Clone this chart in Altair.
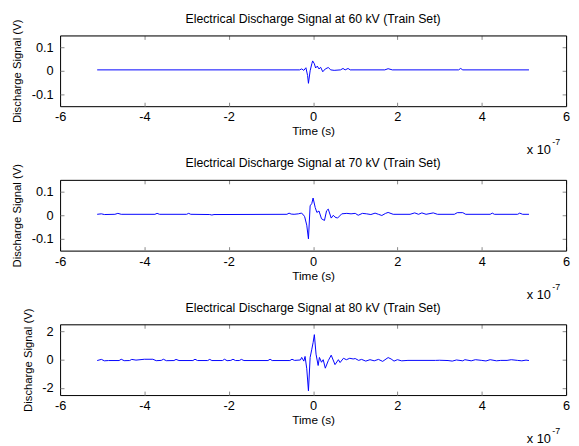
import altair as alt
import pandas as pd

# Time in units of 1e-7 s
t60 = [-5.12, -0.32, -0.27, -0.22, -0.17, -0.13, -0.11, -0.07, -0.03, -0.01, 0.03, 0.06, 0.10, 0.14,
       0.18, 0.23, 0.29, 0.36, 0.42, 0.50, 0.65, 0.71, 0.76, 0.83, 0.88, 1.70, 1.78, 1.88, 3.45, 3.50,
       3.55, 5.12]
v60 = [0.004, 0.004, 0.008, 0.002, 0.013, -0.02, -0.053, 0.0, 0.03, 0.042, 0.03, 0.012, 0.02, 0.008,
       0.015, -0.004, 0.008, 0.014, 0.004, 0.002, 0.004, 0.01, 0.004, 0.01, 0.004, 0.004, 0.009, 0.004,
       0.004, 0.01, 0.004, 0.004]

t70 = [-5.12, -5.02, -4.95, -4.70, -4.63, -4.55, -3.75, -3.70, -3.64, -3.00, -2.95, -2.90, -2.45, -2.40,
       -2.35, -0.62, -0.57, -0.52, -0.45, -0.35, -0.28, -0.24, -0.20, -0.15, -0.11, -0.07, -0.03, 0.0,
       0.05, 0.09, 0.14, 0.20, 0.27, 0.32, 0.36, 0.43, 0.48, 0.52, 0.58, 0.68, 0.80, 0.90, 1.00, 1.07,
       1.17, 1.27, 1.37, 1.47, 1.55, 1.63, 1.72, 1.78, 1.90, 2.30, 2.41, 2.50, 2.58, 2.68, 2.85, 2.95,
       3.35, 3.42, 3.55, 3.62, 4.20, 4.25, 4.30, 4.85, 4.90, 4.97, 5.12]
v70 = [0.004, 0.006, 0.003, 0.004, 0.008, 0.004, 0.004, 0.008, 0.004, 0.004, 0.008, 0.004, 0.003, 0.001,
       0.003, 0.004, 0.009, 0.005, 0.004, 0.006, 0.009, 0.004, -0.006, -0.042, -0.1, 0.04, 0.05, 0.073,
       0.033, 0.012, 0.018, -0.015, -0.022, 0.019, 0.026, -0.012, 0.0, -0.008, -0.012, 0.006, 0.008, 0.006,
       0.008, 0.0, 0.008, 0.006, 0.003, 0.009, 0.004, -0.001, 0.008, 0.012, 0.004, 0.004, 0.01, 0.004,
       0.01, 0.004, 0.01, 0.004, 0.004, 0.011, 0.011, 0.004, 0.004, 0.009, 0.004, 0.004, 0.009, 0.004,
       0.004]

t80 = [-5.12, -5.02, -4.95, -4.85, -4.60, -4.55, -4.48, -4.35, -4.30, -4.20, -4.00, -3.80, -3.72, -3.60,
       -3.55, -3.48, -3.30, -3.25, -3.18, -2.85, -2.80, -2.74, -2.50, -2.45, -2.40, -2.15, -2.10, -2.04,
       -1.95, -1.90, -1.84, -1.75, -1.70, -1.64, -1.07, -1.02, -0.97, -0.55, -0.50, -0.44, -0.30, -0.27,
       -0.22, -0.19, -0.15, -0.11, -0.07, -0.03, 0.0, 0.03, 0.07, 0.12, 0.15, 0.20, 0.24, 0.29, 0.36,
       0.43, 0.52, 0.60, 0.64, 0.72, 0.79, 0.87, 0.95, 1.00, 1.08, 1.15, 1.25, 1.35, 1.45, 1.55, 1.65,
       1.78, 1.85, 1.92, 2.00, 2.10, 2.25, 2.90, 3.00, 3.20, 3.30, 3.40, 3.55, 3.60, 3.75, 3.85, 4.00,
       4.10, 4.20, 4.35, 4.45, 4.60, 4.70, 4.85, 4.95, 5.05, 5.12]
v80 = [-0.06, 0.02, -0.08, -0.06, -0.06, 0.03, -0.07, -0.06, 0.02, -0.03, 0.03, 0.03, -0.07, -0.05,
       0.03, -0.07, -0.06, 0.02, -0.06, -0.06, 0.03, -0.06, -0.06, 0.02, -0.06, -0.06, 0.03, -0.07,
       -0.05, 0.03, -0.06, -0.06, 0.02, -0.06, -0.06, 0.03, -0.06, -0.06, 0.03, -0.05, -0.02, 0.16,
       -0.1, 0.23, -0.64, -2.2, 0.16, 0.74, 1.2, 1.77, 0.39, -0.41, 0.16, -0.18, 0.0, -0.6, -0.07,
       0.32, -0.35, 0.0, -0.2, 0.1, 0.0, 0.1, 0.05, 0.08, -0.05, 0.02, -0.1, 0.0, -0.08, 0.02, -0.12,
       0.15, 0.05, -0.1, 0.0, -0.08, -0.05, -0.05, -0.04, -0.06, -0.1, -0.02, -0.08, 0.0, -0.08, 0.0,
       -0.05, -0.09, 0.0, -0.08, -0.05, -0.05, 0.0, -0.05, -0.08, -0.03, -0.06]

titles = ["Electrical Discharge Signal at 60 kV (Train Set)",
          "Electrical Discharge Signal at 70 kV (Train Set)",
          "Electrical Discharge Signal at 80 kV (Train Set)"]
x_ticks = [-6, -4, -2, 0, 2, 4, 6]
y_ticks_small = [-0.1, 0, 0.1]
y_ticks_big = [-2, 0, 2]

W, H = 515, 72
FONT = "Liberation Sans"
LBL = "datum.value < 0 ? '-' + toString(abs(datum.value)) : toString(datum.value)"


def panel(t, v, title, ydom, yticks):
    df = pd.DataFrame({"t": t, "v": v})
    xs = alt.Scale(domain=[-6, 6], nice=False, zero=False)
    ys = alt.Scale(domain=ydom, nice=False, zero=False)
    base = alt.Chart(df)
    line = base.mark_line(color="#0000ff", strokeWidth=1, clip=True).encode(
        x=alt.X("t:Q", scale=xs, axis=alt.Axis(orient="bottom", values=x_ticks, ticks=False, tickSize=0,
                                               domain=True, domainColor="black", grid=False,
                                               labelPadding=5, labelExpr=LBL, minExtent=0,
                                               labelFlush=False, labelOverlap=False,
                                               title="Time (s)", titlePadding=2, labelFontSize=13,
                                               titleFontSize=12, titleFontWeight="normal")),
        y=alt.Y("v:Q", scale=ys, axis=alt.Axis(orient="left", values=yticks, ticks=False, tickSize=0,
                                               domain=True, domainColor="black", grid=False,
                                               labelPadding=7, labelExpr=LBL, minExtent=0,
                                               labelFlush=False, labelOverlap=False,
                                               title="Discharge Signal (V)", titlePadding=9,
                                               labelFontSize=13, titleFontSize=11.5,
                                               titleFontWeight="normal")),
    )

    def tick_layer(xo, yo):
        return base.mark_line(opacity=0).encode(
            x=alt.X("t:Q", scale=xs, axis=alt.Axis(orient=xo, values=x_ticks, offset=-4, tickSize=4,
                                                   labels=False, domain=False, grid=False, title=None,
                                                   minExtent=0)),
            y=alt.Y("v:Q", scale=ys, axis=alt.Axis(orient=yo, values=yticks, offset=-4, tickSize=4,
                                                   labels=False, domain=False, grid=False, title=None,
                                                   minExtent=0)),
        )

    frame = base.mark_line(opacity=0).encode(
        x=alt.X("t:Q", scale=xs, axis=alt.Axis(orient="top", ticks=False, labels=False, domain=True,
                                               domainColor="black", grid=False, title=None, minExtent=0)),
        y=alt.Y("v:Q", scale=ys, axis=alt.Axis(orient="right", ticks=False, labels=False, domain=True,
                                               domainColor="black", grid=False, title=None, minExtent=0)),
    )

    ttl = alt.Chart(pd.DataFrame({"s": [title]})).mark_text(
        align="center", baseline="middle", fontSize=12.5, font=FONT, color="black").encode(
        x=alt.value(W / 2), y=alt.value(-17), text="s:N")
    exp = alt.Chart(pd.DataFrame({"s": ["x 10"]})).mark_text(
        align="left", baseline="middle", fontSize=13, font=FONT, color="black").encode(
        x=alt.value(W - 40), y=alt.value(H + 45), text="s:N")
    sup = alt.Chart(pd.DataFrame({"s": ["-7"]})).mark_text(
        align="left", baseline="middle", fontSize=9, font=FONT, color="black").encode(
        x=alt.value(W - 14), y=alt.value(H + 37), text="s:N")

    return alt.layer(line, tick_layer("bottom", "left"), tick_layer("top", "right"), frame, ttl, exp, sup
                     ).resolve_axis(x="independent", y="independent").properties(width=W, height=H)


p1 = panel(t60, v60, titles[0], [-0.15, 0.15], y_ticks_small)
p2 = panel(t70, v70, titles[1], [-0.15, 0.15], y_ticks_small)
p3 = panel(t80, v80, titles[2], [-2.5, 2.5], y_ticks_big)

chart = alt.vconcat(p1, p2, p3, spacing=-2).properties(
    padding={"left": 3, "top": 0, "right": 0, "bottom": 0}
).configure_view(stroke="black", strokeWidth=1).configure_axis(
    labelFont=FONT, titleFont=FONT, labelColor="black", titleColor="black", tickColor="black"
).configure(background="white")

chart.save("out.html", embed_options={"renderer": "svg", "actions": False})
